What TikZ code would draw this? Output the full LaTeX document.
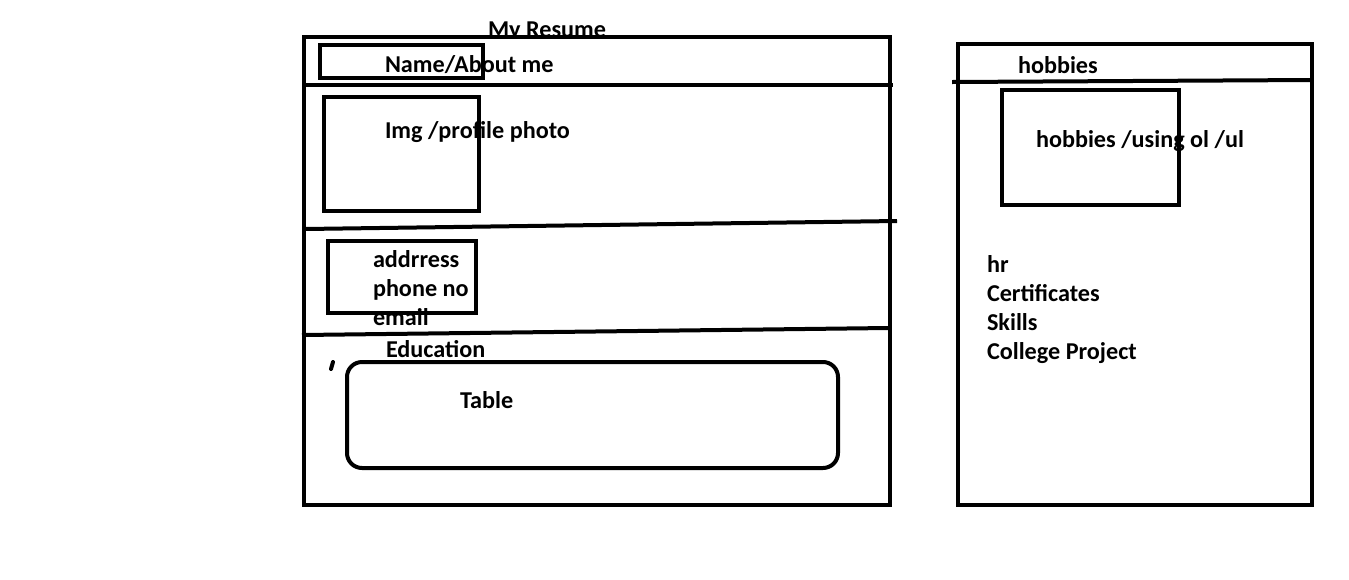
\documentclass[tikz,border=0pt]{standalone}
\usepackage{fontspec}
\setmainfont{Carlito}

\begin{document}
\begin{tikzpicture}[x=0.5pt,y=-0.5pt,line width=2pt,every node/.style={font=\fontsize{12.1}{14}\selectfont\bfseries,inner sep=0pt,anchor=base west}]
\useasboundingbox (0,0) rectangle (1349,579);

\begin{scope}
\clip (0,0) rectangle (1349,37);
\node (title) at (486,37) {My Resume};
\end{scope}

\node (name) at (383,72) {Name/About me};
\node (img) at (383,138) {Img /profile photo};
\node (addr) at (371,267) {addrress};
\node (phone) at (371,296) {phone no};
\node (email) at (371,325) {email};
\node (edu) at (384,357) {Education};
\node (table) at (458,408) {Table};

\draw (304,37) rectangle (890,505);
\draw (302,85) -- (893,85);
\draw (305,229) -- (897,221);
\draw (302,335) -- (888,328);
\draw (320,45) rectangle (483,78);
\draw (324,97) rectangle (479,211);
\draw (328,241) rectangle (476,313);
\draw[rounded corners=7.5pt] (347,362) rectangle (838,468);
\draw[line cap=round] (333,362) -- (331,369);

\node (hobtitle) at (1016,73) {hobbies};
\node (hoblist) at (1034,147) {hobbies /using ol /ul};
\node (hr) at (985,272) {hr};
\node (cert) at (985,301) {Certificates};
\node (skills) at (985,330) {Skills};
\node (project) at (985,359) {College Project};

\draw (958,44) rectangle (1312,505);
\draw (952,82) -- (1312,80);
\draw (1002,90) rectangle (1179,205);

\end{tikzpicture}
\end{document}
